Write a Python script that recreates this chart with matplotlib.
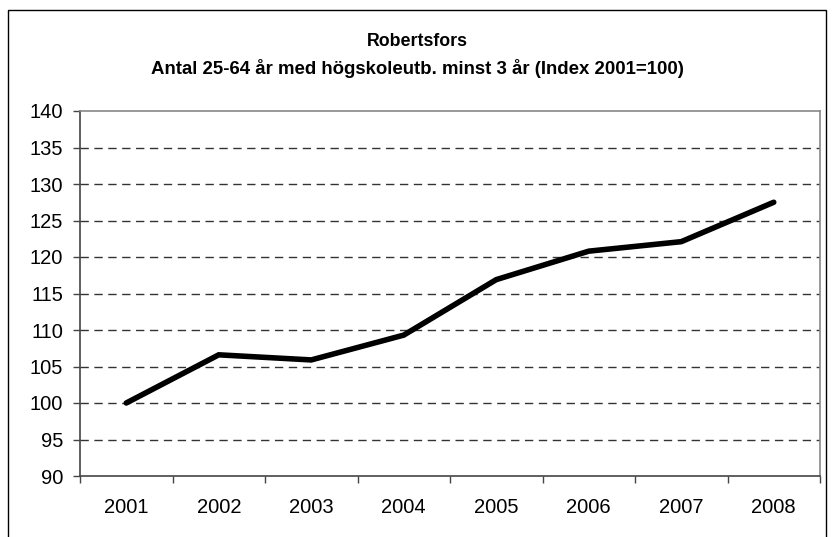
import matplotlib

matplotlib.use("Agg")

import matplotlib.pyplot as plt  # noqa: E402
from matplotlib.patches import Rectangle  # noqa: E402

years = ["2001", "2002", "2003", "2004", "2005", "2006", "2007", "2008"]
index_values = [100.0, 106.6, 105.9, 109.3, 116.9, 120.8, 122.1, 127.5]
y_ticks = [90, 95, 100, 105, 110, 115, 120, 125, 130, 135, 140]

plt.rcParams["font.family"] = ["Liberation Sans", "DejaVu Sans"]

fig = plt.figure(figsize=(8.34, 5.37), dpi=100)
W, H = 834, 537
ax = fig.add_axes([80 / W, 1 - 476 / H, (820 - 80) / W, (476 - 111) / H])

# outer chart frame (bottom edge falls off the picture)
fig.patches.append(Rectangle((8 / W, -0.05), (826 - 8) / W, 1.05 - 10 / H,
                             transform=fig.transFigure, fill=False,
                             edgecolor="black", linewidth=1.0))

xs = [i + 0.5 for i in range(len(years))]
ax.plot(xs, index_values, color="black", linewidth=4, solid_capstyle="round",
        solid_joinstyle="miter", zorder=3)

ax.set_xlim(0, len(years))
ax.set_ylim(90, 140)
ax.set_yticks(y_ticks)
ax.set_yticklabels([str(v) for v in y_ticks])
ax.set_xticks(range(len(years) + 1))
ax.set_xticklabels([])
ax.set_xticks(xs, minor=True)
ax.set_xticklabels(years, minor=True)

for v in y_ticks[1:-1]:
    ax.axhline(v, color="#333333", linewidth=1, dashes=(6, 4), zorder=1)

for side in ("top", "right"):
    ax.spines[side].set_color("#888888")
    ax.spines[side].set_linewidth(1.2)
for side in ("left", "bottom"):
    ax.spines[side].set_color("#444444")
    ax.spines[side].set_linewidth(1.2)

ax.tick_params(axis="y", direction="out", length=5, width=1, color="#444444",
               labelsize=14.5, pad=7)
ax.tick_params(axis="x", which="major", direction="out", length=5, width=1,
               color="#444444")
ax.tick_params(axis="x", which="minor", length=0, labelsize=14.5, pad=16)

fig.text(0.5, 1 - 41 / H, "Robertsfors", ha="center", va="center",
         fontsize=12.8, fontweight="bold")
fig.text(0.5, 1 - 69 / H,
         "Antal 25-64 år med högskoleutb. minst 3 år (Index 2001=100)",
         ha="center", va="center", fontsize=13.4, fontweight="bold")

fig.savefig("out.png", dpi=100)
